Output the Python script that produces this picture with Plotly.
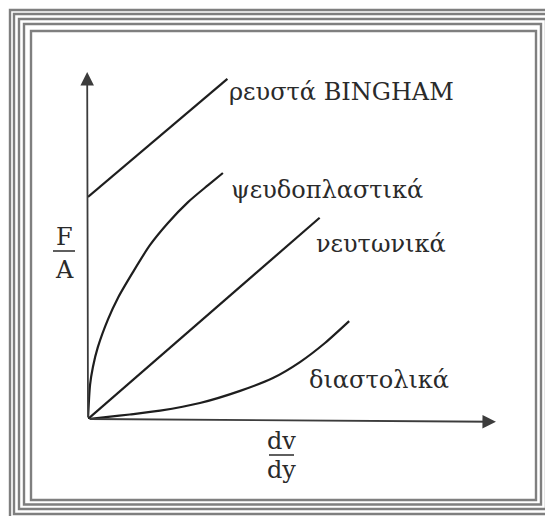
import plotly.graph_objects as go

W, H = 545, 516

# ---- data (arbitrary units, origin of the diagram = 0) ----
bingham_x = [0.0, 3.4]
bingham_y = [6.4, 9.8]
pseudo_x = [0.0, 0.05, 0.12, 0.24, 0.49, 0.73, 1.10, 1.51, 1.95, 2.44, 2.93, 3.29]
pseudo_y = [0.0, 0.98, 1.50, 2.07, 2.88, 3.49, 4.24, 5.01, 5.65, 6.25, 6.74, 7.09]
newton_x = [0.0, 5.65]
newton_y = [0.0, 5.8]
dilat_x = [0.0, 0.49, 1.02, 1.76, 2.73, 3.71, 4.51, 5.17, 5.78, 6.37]
dilat_y = [0.0, 0.06, 0.13, 0.24, 0.46, 0.81, 1.18, 1.64, 2.19, 2.82]

labels = ["ρευστά BINGHAM", "ψευδοπλαστικά", "νευτωνικά", "διαστολικά"]
y_label_num, y_label_den = "F", "A"
x_label_num, x_label_den = "dv", "dy"


def px(x):
    return x / W


def py(y):
    return 1 - y / H


CURVE = "#1e1e1e"
AXIS = "#3c3c3c"
FRAME = "#7f7f7f"
TEXT = "#2a2a2a"
FONT = "DejaVu Serif"

fig = go.Figure()
for xs, ys, shape in [(bingham_x, bingham_y, "linear"), (pseudo_x, pseudo_y, "spline"),
                      (newton_x, newton_y, "linear"), (dilat_x, dilat_y, "spline")]:
    fig.add_trace(go.Scatter(x=xs, y=ys, mode="lines", cliponaxis=False,
                             line=dict(color=CURVE, width=2.2, shape=shape, smoothing=0.7),
                             hoverinfo="skip", showlegend=False))

ann = []
# axes with arrows
ann.append(dict(x=9.95, y=-0.08, ax=0, ay=0, xref="x", yref="y", axref="x", ayref="y",
                text="", showarrow=True, arrowhead=2, arrowsize=1.5, arrowwidth=1.8,
                arrowcolor=AXIS))
ann.append(dict(x=-0.02, y=10.0, ax=0, ay=0, xref="x", yref="y", axref="x", ayref="y",
                text="", showarrow=True, arrowhead=2, arrowsize=1.5, arrowwidth=1.8,
                arrowcolor=AXIS))

fs = 24
label_pos = [(227, 92), (229, 190), (314, 244), (307, 380)]
for t, (lx, ly) in zip(labels, label_pos):
    ann.append(dict(x=px(lx), y=py(ly), xref="paper", yref="paper", text=t,
                    showarrow=False, xanchor="left", yanchor="middle",
                    font=dict(family=FONT, size=fs, color=TEXT)))

# fraction labels
for t, (lx, ly) in [(y_label_num, (64, 237)), (y_label_den, (64, 270)),
                    (x_label_num, (281, 441)), (x_label_den, (281, 470))]:
    ann.append(dict(x=px(lx), y=py(ly), xref="paper", yref="paper", text=t,
                    showarrow=False, xanchor="center", yanchor="middle",
                    font=dict(family=FONT, size=fs, color=TEXT)))

shapes = []
shapes.append(dict(type="line", xref="paper", yref="paper", x0=px(53), x1=px(75),
                   y0=py(251), y1=py(251), line=dict(color=TEXT, width=1.5)))
shapes.append(dict(type="line", xref="paper", yref="paper", x0=px(269), x1=px(294),
                   y0=py(455), y1=py(455), line=dict(color=TEXT, width=1.5)))

# decorative page frame: nested rectangles
frame_rects = [(10, 10, 556, 519), (14, 14, 551, 514), (19, 19, 546, 509),
               (24, 24, 541, 504.5), (31, 31, 536, 500)]
for x0, y0, x1, y1 in frame_rects:
    shapes.append(dict(type="rect", xref="paper", yref="paper", x0=px(x0), x1=px(x1),
                       y0=py(y0), y1=py(y1), line=dict(color=FRAME, width=2.4)))

fig.update_layout(
    width=W, height=H, margin=dict(l=0, r=0, t=0, b=0),
    paper_bgcolor="white", plot_bgcolor="white",
    xaxis=dict(domain=[px(88), px(498)], range=[0, 10], visible=False, fixedrange=True),
    yaxis=dict(domain=[py(419), py(72)], range=[0, 10], visible=False, fixedrange=True),
    annotations=ann, shapes=shapes, showlegend=False,
)

fig.write_html("out.html", config={"displayModeBar": False},
               post_script="document.body.style.margin='0';document.body.style.overflow='hidden';")
